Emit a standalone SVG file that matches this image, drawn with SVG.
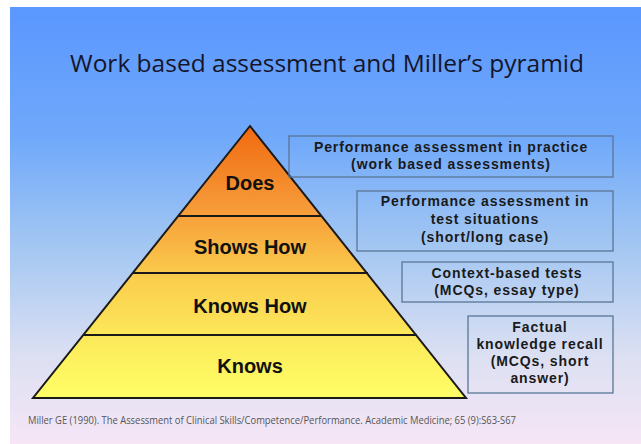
<svg xmlns="http://www.w3.org/2000/svg" width="641" height="444" viewBox="0 0 641 444">
  <defs>
    <linearGradient id="bg" x1="0" y1="0" x2="0" y2="1">
      <stop offset="0" stop-color="#5A97FF"/>
      <stop offset="0.3" stop-color="#70A9FA"/>
      <stop offset="0.55" stop-color="#A4C7F2"/>
      <stop offset="0.8" stop-color="#DCE0F2"/>
      <stop offset="1" stop-color="#F6E6F6"/>
    </linearGradient>
    <linearGradient id="pyr" gradientUnits="userSpaceOnUse" x1="0" y1="126" x2="0" y2="398">
      <stop offset="0" stop-color="#F06A10"/>
      <stop offset="0.3" stop-color="#F69A38"/>
      <stop offset="0.55" stop-color="#FBCC4C"/>
      <stop offset="0.8" stop-color="#FCEB5C"/>
      <stop offset="1" stop-color="#FFFF66"/>
    </linearGradient>
  </defs>
  <style>
    .title { font-family: "Open Sans", "Liberation Sans", sans-serif; font-size: 24px; fill: #15152a; }
    .lvl { font-family: "Liberation Sans", Arial, sans-serif; font-size: 20px; font-weight: bold; fill: #111; text-anchor: middle; }
    .box rect { fill: none; stroke: #5A7596; stroke-width: 1.3; }
    .box text { font-family: "Liberation Sans", Arial, sans-serif; font-size: 14px; letter-spacing: 0.9px; font-weight: bold; fill: #1a1a1a; text-anchor: middle; }
    .cite { font-family: "Open Sans", "Liberation Sans", sans-serif; font-size: 10.5px; fill: #555; }
    .edge { stroke: #1a1a1a; stroke-width: 2; fill: none; }
  </style>
  <rect x="0" y="0" width="641" height="444" fill="#ffffff"/>
  <rect x="10" y="7" width="631" height="437" fill="url(#bg)"/>

  <text class="title" x="327" y="72" text-anchor="middle" textLength="514" lengthAdjust="spacingAndGlyphs">Work based assessment and Miller’s pyramid</text>

  <g id="pyramid">
    <polygon points="250,126 466,398 33,398" fill="url(#pyr)" stroke="#1a1a1a" stroke-width="2" stroke-linejoin="miter"/>
    <g id="levels">
      <line class="edge" x1="178" y1="216" x2="322" y2="216"/>
      <line class="edge" x1="132" y1="273" x2="368" y2="273"/>
      <line class="edge" x1="83" y1="335" x2="417" y2="335"/>
    </g>
  </g>
  <g id="does"><text class="lvl" x="250" y="190">Does</text></g>
  <g id="shows-how"><text class="lvl" x="250" y="254">Shows How</text></g>
  <g id="knows-how"><text class="lvl" x="250" y="313">Knows How</text></g>
  <g id="knows"><text class="lvl" x="250" y="373">Knows</text></g>

  <g id="box-practice" class="box">
    <rect x="289" y="136" width="324" height="41"/>
    <text x="451" y="152">Performance assessment in practice</text>
    <text x="451" y="169">(work based assessments)</text>
  </g>
  <g id="box-test" class="box">
    <rect x="357" y="191" width="256" height="60"/>
    <text x="485" y="206">Performance assessment in</text>
    <text x="485" y="224">test situations</text>
    <text x="485" y="242">(short/long case)</text>
  </g>
  <g id="box-context" class="box">
    <rect x="402" y="262" width="211" height="40"/>
    <text x="507" y="278">Context-based tests</text>
    <text x="507" y="295">(MCQs, essay type)</text>
  </g>
  <g id="box-factual" class="box">
    <rect x="468" y="316" width="145" height="77"/>
    <text x="540" y="332">Factual</text>
    <text x="540" y="349">knowledge recall</text>
    <text x="540" y="366">(MCQs, short</text>
    <text x="540" y="383">answer)</text>
  </g>

  <text class="cite" x="28" y="424" textLength="488" lengthAdjust="spacingAndGlyphs">Miller GE (1990). The Assessment of Clinical Skills/Competence/Performance. Academic Medicine; 65 (9):S63-S67</text>
</svg>
